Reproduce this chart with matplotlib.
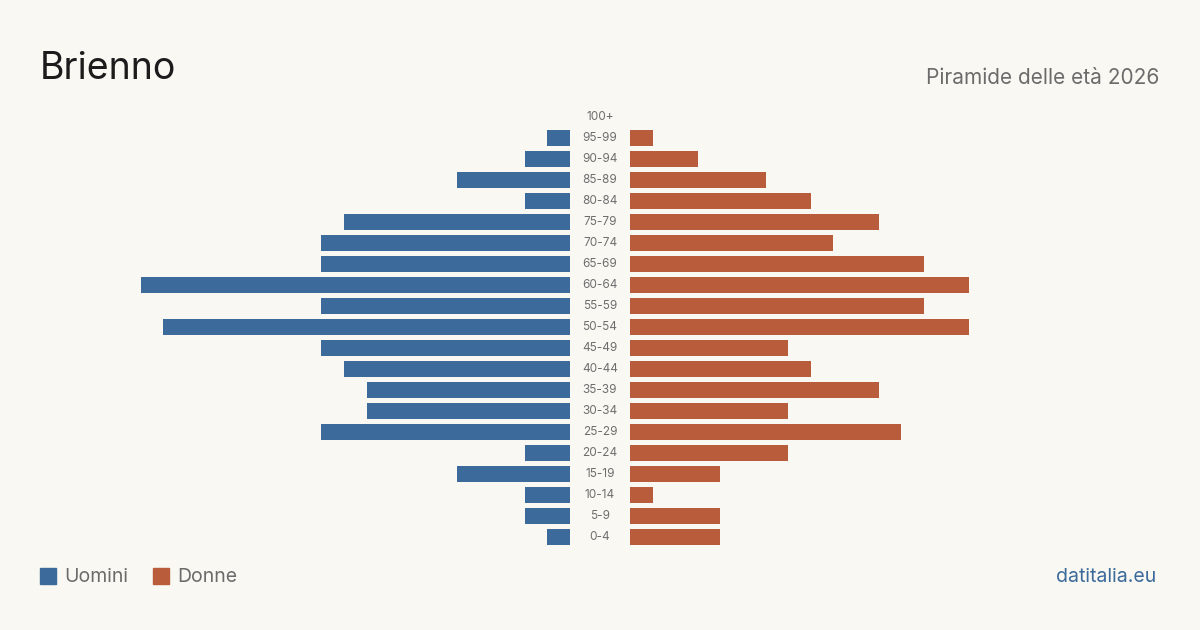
import matplotlib.pyplot as plt
from matplotlib.patches import Rectangle
import numpy as np

plt.rcParams['font.family'] = ['Inter', 'DejaVu Sans']

# age groups from youngest to oldest
age_groups = ['0-4', '5-9', '10-14', '15-19', '20-24', '25-29', '30-34', '35-39',
              '40-44', '45-49', '50-54', '55-59', '60-64', '65-69', '70-74',
              '75-79', '80-84', '85-89', '90-94', '95-99', '100+']
uomini = [1, 2, 2, 5, 2, 11, 9, 9, 10, 11, 18, 11, 19, 11, 11, 10, 2, 5, 2, 1, 0]
donne = [4, 4, 1, 4, 7, 12, 7, 11, 8, 7, 15, 13, 15, 13, 9, 11, 8, 6, 3, 1, 0]

BG = '#f9f8f3'
BLUE = '#3b6a9b'
ORANGE = '#b95c3b'

W, H = 1200, 630
px_per_unit = 22.6
row_px = 21
gap = 30 / px_per_unit

fig = plt.figure(figsize=(12, 6.3), dpi=100, facecolor=BG)
ax = fig.add_axes([0, 0, 1, 1])
ax.set_facecolor(BG)
half = (W / 2) / px_per_unit
ax.set_xlim(-half, half)
y0 = -(H - 537) / row_px
ax.set_ylim(y0, y0 + H / row_px)
ax.axis('off')

y = np.arange(len(age_groups))
ax.barh(y, uomini, left=-gap - np.array(uomini), height=0.8, color=BLUE)
ax.barh(y, donne, left=gap, height=0.8, color=ORANGE)
for yi, lab in zip(y, age_groups):
    ax.text(0, yi, lab, ha='center', va='center', fontsize=8.5, color='#6e6e6e')

fig.text(40 / W, 1 - 69 / H, 'Brienno', fontsize=27, color='#1c1c1c',
         ha='left', va='center')
fig.text(1159 / W, 1 - 78 / H, 'Piramide delle età 2026', fontsize=15,
         color='#6b6b6b', ha='right', va='center')

# legend
for x_sq, col, lab in [(40, BLUE, 'Uomini'), (153, ORANGE, 'Donne')]:
    fig.patches.append(Rectangle((x_sq / W, 1 - 584 / H), 16 / W, 16 / H,
                                 transform=fig.transFigure, color=col))
    fig.text((x_sq + 24) / W, 1 - 577 / H, lab, fontsize=14, color='#6b6b6b',
             ha='left', va='center')

fig.text(1156 / W, 1 - 577 / H, 'datitalia.eu', fontsize=14, color=BLUE,
         ha='right', va='center')

fig.savefig('out.png', dpi=100, facecolor=BG)
